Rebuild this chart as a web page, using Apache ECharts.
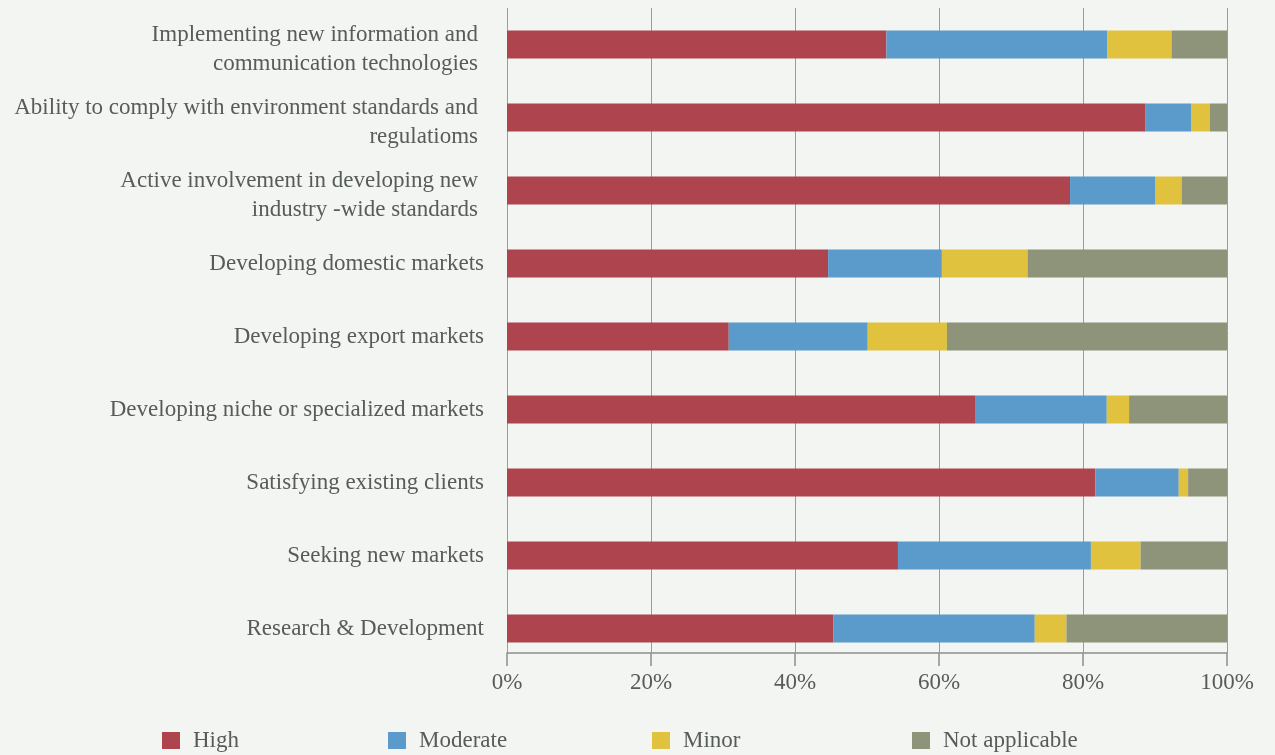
<!DOCTYPE html>
<html>
<head>
<meta charset="utf-8">
<title>Business priorities</title>
<script src="https://cdn.jsdelivr.net/npm/echarts@6/dist/echarts.min.js"></script>
<style>
  html, body { margin: 0; padding: 0; background: #f3f5f2; }
  #chart { width: 1275px; height: 755px; }
</style>
</head>
<body>
<div id="chart"></div>
<script>
// Categories, listed top to bottom
const categories = [
  'Implementing new information and\ncommunication technologies',
  'Ability to comply with environment standards and\nregulatioms',
  'Active involvement in developing new\nindustry -wide standards',
  'Developing domestic markets',
  'Developing export markets',
  'Developing niche or specialized markets',
  'Satisfying existing clients',
  'Seeking new markets',
  'Research & Development'
];

// Share of respondents (%) per importance level
const high          = [52.7, 88.7, 78.2, 44.6, 30.8, 65.0, 81.7, 54.3, 45.3];
const moderate      = [30.7,  6.3, 11.8, 15.8, 19.3, 18.3, 11.6, 26.8, 28.0];
const minor         = [ 8.9,  2.6,  3.7, 11.9, 11.0,  3.1,  1.3,  6.9,  4.4];
const notApplicable = [ 7.7,  2.4,  6.3, 27.7, 38.9, 13.6,  5.4, 12.0, 22.3];

const seriesNames = ['High', 'Moderate', 'Minor', 'Not applicable'];
const seriesData = [high, moderate, minor, notApplicable];
const colors = ['#ae444d', '#5a9bcb', '#e0c23e', '#8e9479'];
const legendLeft = [157, 383, 647, 907];

const FONT = 'Liberation Serif';
const TEXT = '#585c58';
const SIZE = 23;

const chart = echarts.init(document.getElementById('chart'), null, { renderer: 'canvas' });

// Two-line category labels: a thin spacer line on top nudges the pair
// slightly below the bar centre, and they end a little further left.
function categoryLabel(value) {
  if (value.indexOf('\n') < 0) return value;
  const parts = value.split('\n');
  return '{s| }\n{a|' + parts[0] + '}\n{a|' + parts[1] + '}';
}

chart.setOption({
  animation: false,
  backgroundColor: '#f3f5f2',
  color: colors,
  legend: seriesNames.map((name, i) => ({
    data: [name],
    left: legendLeft[i],
    top: 724,
    icon: 'rect',
    itemWidth: 18,
    itemHeight: 17,
    itemGap: 0,
    textStyle: { fontFamily: FONT, fontSize: SIZE, color: TEXT, padding: [0, 0, 0, 8] }
  })),
  grid: [
    // bars
    { left: 507, right: 48, top: 8, height: 657 },
    // frame: gridlines, axis line and tick labels
    { left: 507, right: 48, top: 8, height: 645 }
  ],
  xAxis: [
    { gridIndex: 0, type: 'value', min: 0, max: 100, show: false },
    {
      gridIndex: 1, type: 'value', min: 0, max: 100, interval: 20,
      axisLine: { show: true, lineStyle: { color: '#8c8f8c', width: 1.5 } },
      axisTick: { show: true, length: 13, lineStyle: { color: '#8c8f8c', width: 1.5 } },
      splitLine: { show: true, lineStyle: { color: '#9a9d9a', width: 1 } },
      axisLabel: {
        formatter: '{value}%', margin: 18,
        fontFamily: FONT, fontSize: SIZE, color: TEXT
      }
    }
  ],
  yAxis: [
    {
      gridIndex: 0, type: 'category', data: categories, inverse: true,
      axisLine: { show: false }, axisTick: { show: false }, splitLine: { show: false },
      axisLabel: {
        margin: 23, fontFamily: FONT, fontSize: SIZE, color: TEXT, lineHeight: 29, align: 'right',
        formatter: categoryLabel,
        rich: {
          s: { fontFamily: FONT, fontSize: 2, lineHeight: 9 },
          a: { fontFamily: FONT, fontSize: SIZE, color: TEXT, lineHeight: 29, padding: [0, 6, 0, 0] }
        }
      }
    },
    { gridIndex: 1, type: 'value', show: false }
  ],
  series: seriesNames.map((name, i) => ({
    name: name,
    type: 'bar',
    stack: 'total',
    xAxisIndex: 0,
    yAxisIndex: 0,
    barWidth: 28,
    data: seriesData[i],
    itemStyle: { color: colors[i] }
  }))
});
</script>
</body>
</html>
